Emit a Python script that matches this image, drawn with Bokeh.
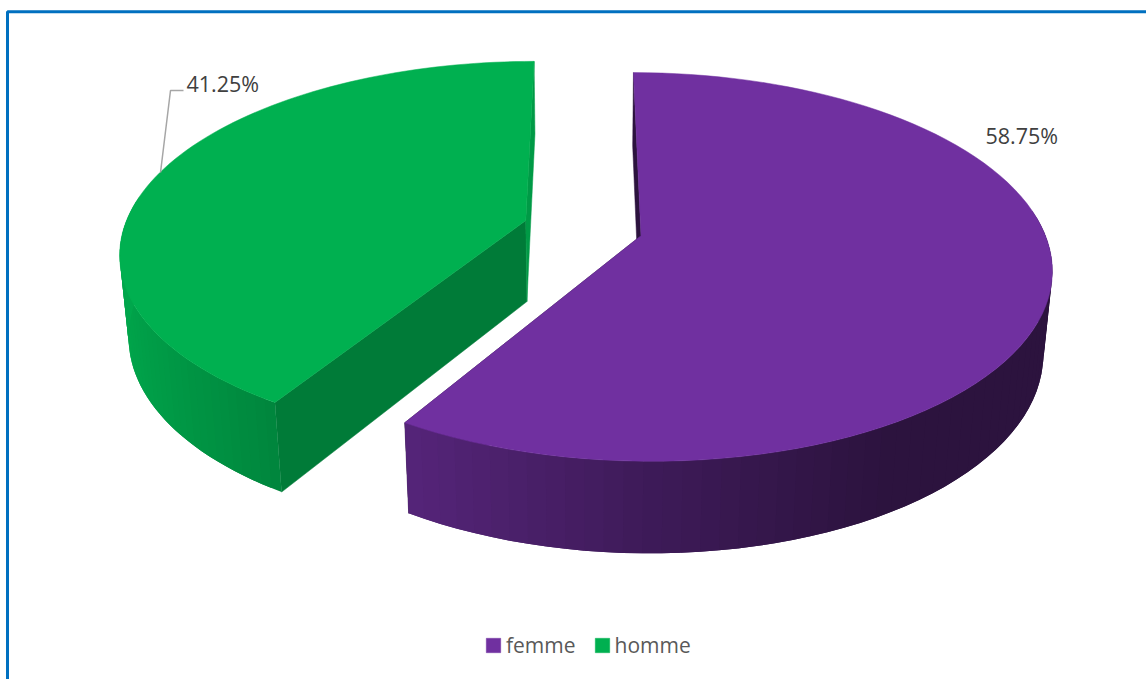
import numpy as np
from bokeh.core.properties import value
from bokeh.embed import file_html
from bokeh.models import Legend, LegendItem, Range1d
from bokeh.plotting import figure
from bokeh.resources import INLINE

# Share of respondents per category, in drawing order (clockwise from 12 o'clock)
categories = ["femme", "homme"]
shares = [58.75, 41.25]
colors = ["#7030A0", "#00B050"]
explosions = [0.14, 0.158]

# Face shading for the two radial walls of each slice: (wall at start angle, wall at end angle)
radial_shades = [(0.39, 0.39), (0.70, 0.875)]

# Camera used to project the tilted disc onto the page
CX, CY = 586.0, 228.0
SCALE_X, SCALE_Y = 402.0, 187.0
PERSPECTIVE = 0.16
THICKNESS = 83.0
THICKNESS_PERSPECTIVE = 0.019


def project(x, y, z=0.0):
    w = 1 + PERSPECTIVE * y + THICKNESS_PERSPECTIVE * z
    return CX + SCALE_X * x / w, CY - (SCALE_Y * y - THICKNESS * z) / w


def tint(hex_color, s):
    r, g, b = (int(hex_color[i:i + 2], 16) for i in (1, 3, 5))
    return "#%02x%02x%02x" % (round(r * s), round(g * s), round(b * s))


def wall_shade(theta):
    # Light falls from the left: brightness depends on the outward normal's x part
    return float(np.interp(np.sin(theta), [-1, -0.5, 0, 0.5, 1], [0.95, 0.75, 0.55, 0.39, 0.39]))


p = figure(
    width=1146, height=679, output_backend="svg", toolbar_location=None,
    x_range=Range1d(0, 1146), y_range=Range1d(679, 0),
    min_border=0, outline_line_color=None, background_fill_color="white",
)
p.axis.visible = False
p.grid.visible = False

# Chart frame; its right and bottom sides run off the page
p.line([1160, 7, 7], [11.3, 11.3, 700], line_color="#0070C0", line_width=3)

fractions = np.cumsum([0] + shares) / sum(shares) * 2 * np.pi
order = np.argsort(shares)  # the smaller slice sits behind, drawn first
legend_renderers = {}

for i in order:
    a0, a1 = fractions[i], fractions[i + 1]
    mid = (a0 + a1) / 2
    ox, oy = explosions[i] * np.sin(mid), explosions[i] * np.cos(mid)
    theta = np.linspace(a0, a1, 91)
    rim_x, rim_y = ox + np.sin(theta), oy + np.cos(theta)
    tx, ty = project(rim_x, rim_y)
    bx, by = project(rim_x, rim_y, 1.0)

    # Radial walls go first: the rim and the top face hide whatever faces away
    apex_top = project(ox, oy)
    apex_bot = project(ox, oy, 1.0)
    for end, s in ((0, radial_shades[i][0]), (-1, radial_shades[i][1])):
        c = tint(colors[i], s)
        p.patch(
            [apex_top[0], tx[end], bx[end], apex_bot[0]],
            [apex_top[1], ty[end], by[end], apex_bot[1]],
            fill_color=c, line_color=c, line_width=0.5,
        )

    # Outer wall as overlapping strips so the shading can vary round the rim without seams;
    # the far side of the rim faces away from the camera and is skipped
    xs, ys, fills = [], [], []
    for k in range(len(theta) - 1):
        if np.cos(theta[k]) > 0.1 and np.cos(theta[k + 1]) > 0.1:
            continue
        n = min(k + 2, len(theta) - 1)
        xs.append([tx[k], tx[k + 1], tx[n], bx[n], bx[k + 1], bx[k]])
        ys.append([ty[k], ty[k + 1], ty[n], by[n], by[k + 1], by[k]])
        fills.append(tint(colors[i], wall_shade((theta[k] + theta[k + 1]) / 2)))
    p.patches(xs, ys, fill_color=fills, line_color=None)

    # Top face
    top = p.patch(
        np.r_[apex_top[0], tx], np.r_[apex_top[1], ty],
        fill_color=colors[i], line_color=colors[i], line_width=0.5,
    )
    legend_renderers[categories[i]] = top

# Data labels
label_font = value("Open Sans")
p.text(
    [985, 186], [135, 83], text=[f"{v:.2f}%" for v in shares],
    text_font=label_font, text_font_size="21.5px", text_color="#404040",
    text_baseline="alphabetic", text_align="left",
)
# Leader line for the label of the smaller slice
p.line([160, 170, 183], [172, 90, 90], line_color="#A6A6A6", line_width=1.5)

legend = Legend(
    items=[LegendItem(label=c, renderers=[legend_renderers[c]]) for c in categories],
    orientation="horizontal", location=(484, 20),
    background_fill_alpha=0, border_line_alpha=0, margin=0, padding=0,
    glyph_width=18, glyph_height=18, label_standoff=4, spacing=17,
    label_text_font="Open Sans", label_text_font_size="21px", label_text_color="#595959",
    label_height=18,
)
p.add_layout(legend, "center")

open("out.html", "w").write(file_html(p, INLINE))
